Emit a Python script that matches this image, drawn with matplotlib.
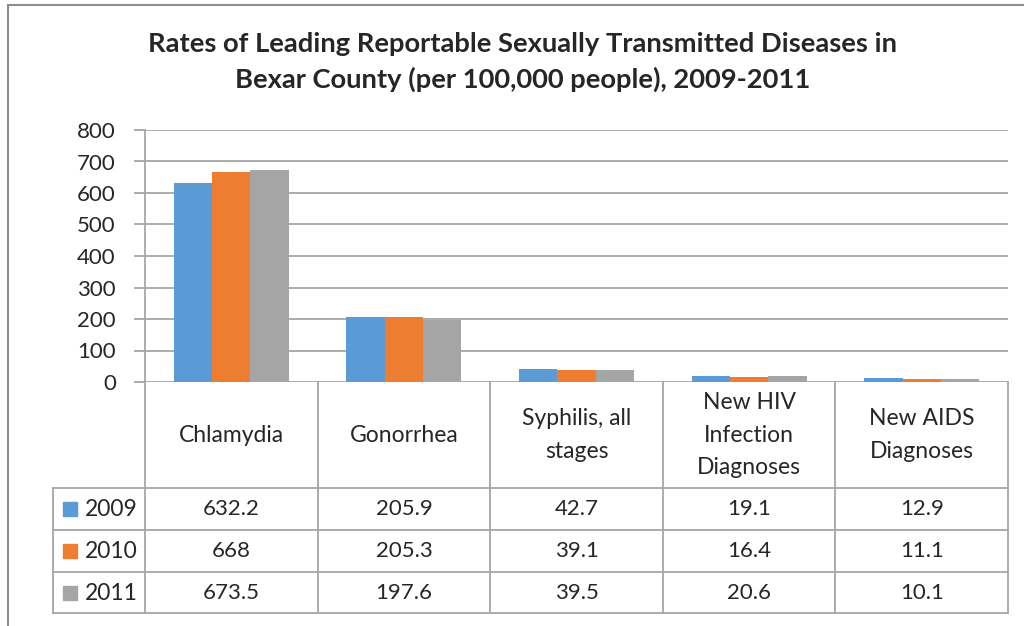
import matplotlib.pyplot as plt
import matplotlib.transforms as mtransforms
from matplotlib.lines import Line2D
from matplotlib.patches import Rectangle
import numpy as np

plt.rcParams['font.family'] = ['Lato', 'DejaVu Sans']

categories = ['Chlamydia', 'Gonorrhea', 'Syphilis, all\nstages',
              'New HIV\nInfection\nDiagnoses', 'New AIDS\nDiagnoses']
years = ['2009', '2010', '2011']
rate_2009 = [632.2, 205.9, 42.7, 19.1, 12.9]
rate_2010 = [668, 205.3, 39.1, 16.4, 11.1]
rate_2011 = [673.5, 197.6, 39.5, 20.6, 10.1]
colors = ['#5B9BD5', '#ED7D31', '#A5A5A5']
title = ('Rates of Leading Reportable Sexually Transmitted Diseases in\n'
         'Bexar County (per 100,000 people), 2009-2011')

W, H = 1024, 626
grid_c = '#A6A6A6'
txt_c = '#262626'

def fx(px):
    return px / W

def fy(py):
    return 1 - py / H

fig = plt.figure(figsize=(W / 100, H / 100), dpi=100)
ax = fig.add_axes([fx(145), fy(382), fx(1008) - fx(145), fy(130) - fy(382)])

series = [rate_2009, rate_2010, rate_2011]
x = np.arange(len(categories))
bw = 1 / 4.5
for i, vals in enumerate(series):
    ax.bar(x + (i - 1) * bw, vals, bw, color=colors[i], zorder=3)

ax.set_xlim(-0.5, len(categories) - 0.5)
ax.set_ylim(0, 800)
ax.set_yticks(range(0, 801, 100))
ax.yaxis.grid(True, color=grid_c, linewidth=1.3, zorder=0)
ax.set_xticks([])
ax.tick_params(axis='y', length=8, color=grid_c, width=1.3, labelsize=16,
               labelcolor=txt_c, pad=13)
for s in ['top', 'right', 'bottom']:
    ax.spines[s].set_visible(False)
ax.spines['left'].set_color(grid_c)
ax.spines['left'].set_linewidth(1.3)

fig.text(0.51, fy(62), title, ha='center', va='center', fontsize=19.7,
         fontweight='bold', color=txt_c, linespacing=1.5)

# data table below the axis
blend = mtransforms.blended_transform_factory(ax.transData, fig.transFigure)
lw = 1.3
# vertical lines at category boundaries
for b in np.arange(len(categories) + 1) - 0.5:
    fig.add_artist(Line2D([b, b], [fy(382), fy(613)], transform=blend,
                          color=grid_c, lw=lw))
# horizontal lines
for yy in [488, 530, 572, 613]:
    fig.add_artist(Line2D([fx(53), fx(1008)], [fy(yy), fy(yy)],
                          transform=fig.transFigure, color=grid_c, lw=lw))
fig.add_artist(Line2D([fx(53), fx(53)], [fy(488), fy(613)],
                      transform=fig.transFigure, color=grid_c, lw=lw))

for i, c in enumerate(categories):
    fig.text(x[i], fy(435), c, transform=blend, ha='center', va='center',
             fontsize=16.5, color=txt_c, linespacing=1.65)

row_y = [509, 551, 593]
for r, (yr, vals) in enumerate(zip(years, series)):
    fig.add_artist(Rectangle((fx(63), fy(row_y[r] + 7)), fx(14), 14 / H,
                             transform=fig.transFigure, color=colors[r]))
    fig.text(fx(85), fy(row_y[r]), yr, ha='left', va='center', fontsize=16.5,
             color=txt_c)
    for i, v in enumerate(vals):
        fig.text(x[i], fy(row_y[r]), f'{v:g}', transform=blend, ha='center',
                 va='center', fontsize=16, color=txt_c)

# chart area border
fig.add_artist(Line2D([fx(8), fx(8)], [fy(5), 0], transform=fig.transFigure,
                      color='#8C8C8C', lw=1.5))
fig.add_artist(Line2D([fx(8), 1], [fy(5), fy(5)], transform=fig.transFigure,
                      color='#8C8C8C', lw=1.5))

fig.savefig('out.png', dpi=100)
